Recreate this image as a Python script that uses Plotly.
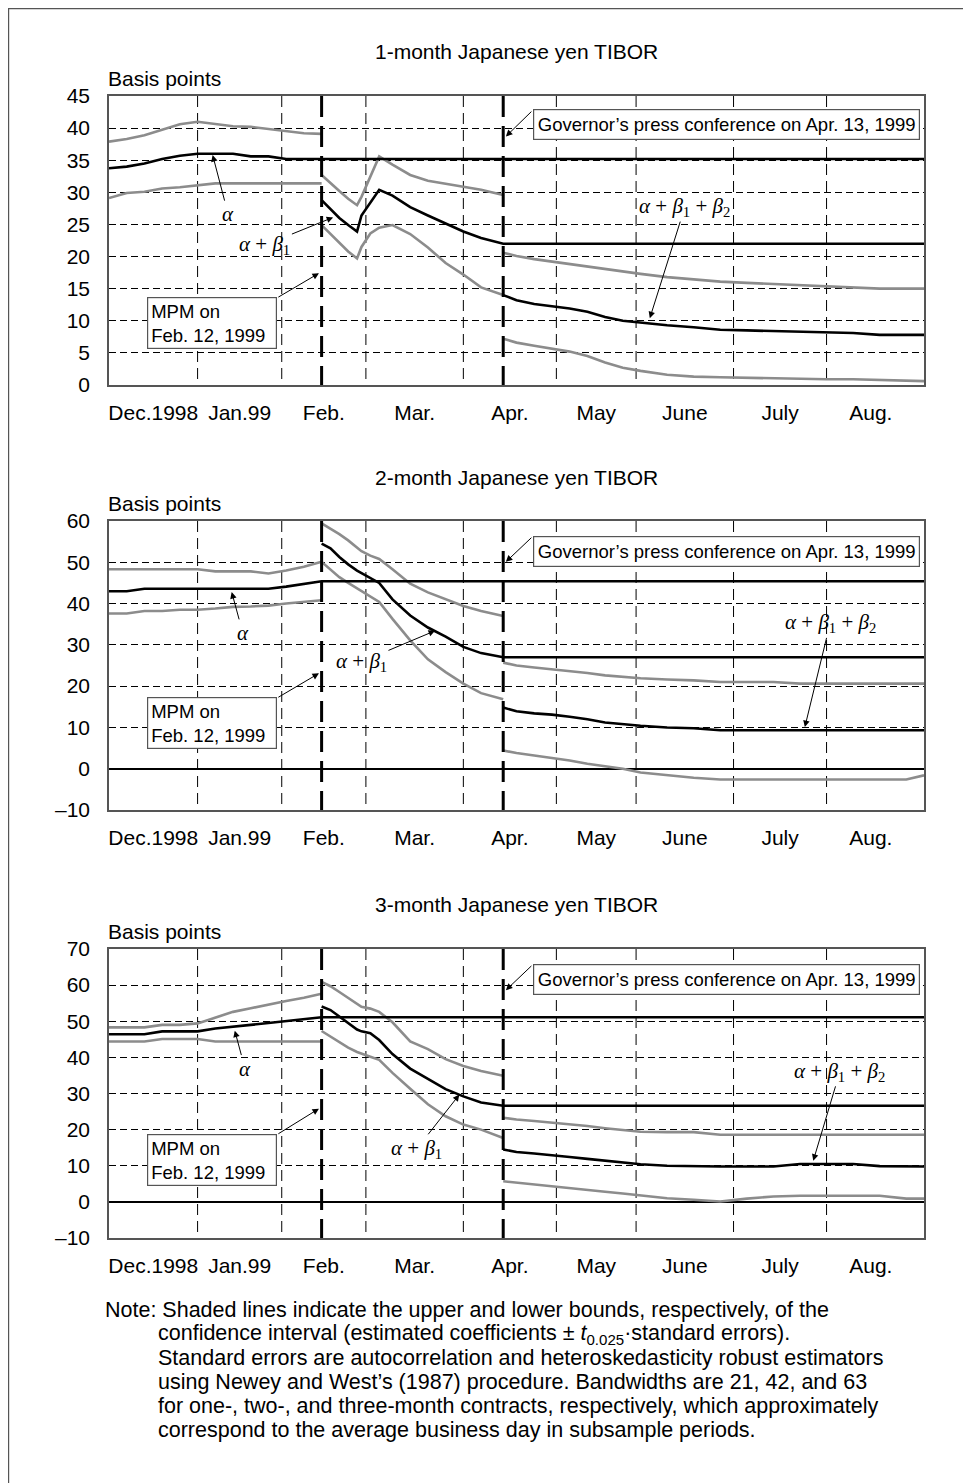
import plotly.graph_objects as go

# ---------------- data (x = business-day index from 1 Dec 1998) ----------------
DAYS_A = [0, 4, 8, 12, 16, 20, 24, 28, 32, 36, 40, 44, 48]
DAYS_B = [48, 50, 52, 54, 56, 57, 59, 61, 64, 68, 72, 76, 80, 84, 89]
DAYS_C = [89, 92, 96, 100, 104, 108, 112, 116, 120, 126, 132, 138, 144, 150, 156, 162, 168, 174, 180, 184]
LAST_DAY = 184
EVENT_DAYS = [48, 89]
MONTH_BOUNDS = [20, 39, 58, 80, 101, 119, 141, 162]
MONTH_LABEL_POS = [10, 29.5, 48.5, 69, 90.5, 110, 130, 151.5, 172]
MONTH_LABELS = ["Dec.1998", "Jan.99", "Feb.", "Mar.", "Apr.", "May", "June", "July", "Aug."]

TITLES = ["1-month Japanese yen TIBOR", "2-month Japanese yen TIBOR", "3-month Japanese yen TIBOR"]
Y_RANGES = [[0, 45], [-10, 60], [-10, 70]]
Y_TICKS = [[0, 5, 10, 15, 20, 25, 30, 35, 40, 45],
           [-10, 0, 10, 20, 30, 40, 50, 60],
           [-10, 0, 10, 20, 30, 40, 50, 60, 70]]
Y_TICKTEXT = [["0", "5", "10", "15", "20", "25", "30", "35", "40", "45"],
              ["\u201310", "0", "10", "20", "30", "40", "50", "60"],
              ["\u201310", "0", "10", "20", "30", "40", "50", "60", "70"]]

# 1-month
M1_A_EST = [33.75, 34.0, 34.5, 35.2, 35.7, 36.0, 36.0, 36.0, 35.6, 35.6, 35.2, 35.2, 35.2]
M1_A_UP = [37.9, 38.3, 38.9, 39.7, 40.6, 41.0, 40.65, 40.3, 40.2, 39.9, 39.5, 39.2, 39.1]
M1_A_LO = [29.1, 29.9, 30.1, 30.6, 30.8, 31.15, 31.4, 31.4, 31.4, 31.4, 31.4, 31.4, 31.4]
M1_B_EST = [28.8, 27.4, 26.0, 24.9, 23.9, 26.4, 28.4, 30.4, 29.5, 27.7, 26.4, 25.2, 23.9, 22.9, 22.0]
M1_B_UP = [32.7, 31.4, 30.2, 29.0, 28.0, 29.3, 32.5, 35.6, 34.3, 32.7, 31.8, 31.3, 30.9, 30.4, 29.6]
M1_B_LO = [24.9, 23.5, 22.1, 20.8, 19.7, 21.5, 23.6, 24.5, 24.9, 23.5, 21.4, 19.0, 17.2, 15.2, 14.0]
M1_C_EST = [14.0, 13.2, 12.6, 12.3, 11.9, 11.4, 10.6, 10.0, 9.7, 9.3, 9.0, 8.6, 8.5, 8.4, 8.2, 8.2, 8.1, 7.8, 7.8, 7.8]
M1_C_UP = [20.6, 20.1, 19.6, 19.2, 18.9, 18.4, 18.0, 17.6, 17.3, 16.8, 16.4, 16.1, 15.9, 15.7, 15.5, 15.3, 15.2, 15.0, 15.0, 15.0]
M1_C_LO = [7.2, 6.6, 6.1, 5.7, 5.2, 4.5, 3.5, 2.7, 2.2, 1.6, 1.3, 1.2, 1.1, 1.0, 1.0, 0.9, 0.9, 0.8, 0.6, 0.6]

# 2-month
M2_A_EST = [43.0, 43.0, 43.6, 43.6, 43.6, 43.6, 43.6, 43.6, 43.6, 43.6, 44.1, 44.7, 45.4]
M2_A_UP = [48.3, 48.3, 48.3, 48.3, 48.3, 48.3, 47.8, 47.8, 47.8, 47.3, 48.0, 48.9, 50.1]
M2_A_LO = [37.6, 37.6, 38.2, 38.2, 38.5, 38.5, 38.8, 39.2, 39.3, 39.5, 40.0, 40.4, 40.8]
M2_B_EST = [54.5, 53.4, 51.3, 49.5, 48.0, 47.4, 46.4, 45.0, 41.0, 37.1, 34.2, 32.0, 29.5, 28.0, 27.0]
M2_B_UP = [59.4, 58.2, 56.8, 55.3, 53.5, 52.7, 51.6, 50.8, 48.3, 44.8, 42.7, 41.0, 39.4, 38.2, 37.0]
M2_B_LO = [50.1, 48.3, 46.4, 45.0, 43.7, 43.0, 41.8, 40.4, 36.3, 31.1, 26.5, 23.4, 20.6, 18.3, 16.8]
M2_C_EST = [14.8, 13.9, 13.4, 13.1, 12.6, 12.0, 11.2, 10.8, 10.4, 10.0, 9.8, 9.3, 9.3, 9.3, 9.3, 9.3, 9.3, 9.3, 9.3, 9.3]
M2_C_UP = [25.7, 25.0, 24.5, 24.1, 23.7, 23.2, 22.6, 22.2, 21.9, 21.6, 21.4, 21.0, 21.0, 21.0, 20.6, 20.6, 20.6, 20.6, 20.6, 20.6]
M2_C_LO = [4.4, 3.8, 3.2, 2.6, 2.0, 1.2, 0.6, 0.0, -0.9, -1.6, -2.2, -2.6, -2.6, -2.6, -2.6, -2.6, -2.6, -2.6, -2.6, -1.6]

# 3-month
M3_A_EST = [46.4, 46.4, 46.4, 47.2, 47.2, 47.2, 48.0, 48.6, 49.0, 49.5, 50.0, 50.4, 51.1]
M3_A_UP = [48.3, 48.3, 48.3, 49.0, 49.0, 49.4, 51.0, 52.6, 53.6, 54.7, 55.6, 56.5, 57.6]
M3_A_LO = [44.4, 44.4, 44.4, 45.1, 45.1, 45.1, 44.4, 44.4, 44.4, 44.4, 44.4, 44.4, 44.4]
M3_B_EST = [54.1, 53.1, 51.3, 49.5, 47.7, 47.2, 46.7, 44.8, 40.9, 36.9, 34.0, 31.2, 29.2, 27.5, 26.6]
M3_B_UP = [60.9, 59.7, 58.1, 56.4, 54.6, 54.0, 53.5, 52.6, 49.7, 44.4, 42.3, 39.5, 37.6, 36.2, 34.9]
M3_B_LO = [47.3, 45.7, 44.2, 42.7, 41.5, 41.0, 40.2, 39.3, 35.7, 31.3, 27.0, 23.7, 21.4, 20.0, 17.7]
M3_C_EST = [14.5, 13.8, 13.4, 13.0, 12.4, 11.9, 11.4, 10.9, 10.4, 10.0, 9.8, 9.8, 9.8, 9.8, 10.5, 10.5, 10.5, 9.9, 9.8, 9.8]
M3_C_UP = [23.3, 22.8, 22.4, 22.0, 21.5, 21.0, 20.4, 19.9, 19.4, 19.3, 19.3, 18.6, 18.6, 18.6, 18.6, 18.6, 18.6, 18.6, 18.6, 18.6]
M3_C_LO = [5.7, 5.3, 4.8, 4.3, 3.8, 3.3, 2.8, 2.3, 1.8, 1.0, 0.6, 0.1, 0.9, 1.5, 1.7, 1.7, 1.7, 1.7, 0.9, 0.9]

NOTE_LINES = [
    "Note: Shaded lines indicate the upper and lower bounds, respectively, of the",
    "confidence interval (estimated coefficients \u00b1 <i>t</i><sub>0.025</sub>\u00b7standard errors).",
    "Standard errors are autocorrelation and heteroskedasticity robust estimators",
    "using Newey and West\u2019s (1987) procedure. Bandwidths are 21, 42, and 63",
    "for one-, two-, and three-month contracts, respectively, which approximately",
    "correspond to the average business day in subsample periods.",
]

PANELS = [
    (M1_A_EST, M1_A_UP, M1_A_LO, M1_B_EST, M1_B_UP, M1_B_LO, M1_C_EST, M1_C_UP, M1_C_LO),
    (M2_A_EST, M2_A_UP, M2_A_LO, M2_B_EST, M2_B_UP, M2_B_LO, M2_C_EST, M2_C_UP, M2_C_LO),
    (M3_A_EST, M3_A_UP, M3_A_LO, M3_B_EST, M3_B_UP, M3_B_LO, M3_C_EST, M3_C_UP, M3_C_LO),
]

# annotation placement (data coords of each panel): text centre, arrow head
LBL_ALPHA = [((26.9, 26.6), (23.4, 35.8)),
             ((30.2, 32.9), (27.7, 42.8)),
             ((30.7, 36.9), (28.4, 47.4))]
LBL_AB1 = [((35.2, 21.8), (50.6, 26.1)),
           ((57.0, 25.9), (73.6, 33.4)),
           ((69.5, 14.7), (79.1, 29.7))]
LBL_AB2 = [((130.0, 27.7), (122.1, 10.4)),
           ((162.8, 35.2), (157.1, 10.1)),
           ((165.0, 36.0), (159.0, 11.4))]
# box centre, arrow tail (box corner), arrow head
BOX_MPM = [((23.3, 9.66), (37.9, 13.55), (47.4, 17.4)),
           ((23.3, 11.1), (37.9, 17.1), (47.4, 23.1)),
           ((23.3, 11.7), (37.9, 18.6), (47.4, 25.8))]
BOX_GOV = [((139.4, 40.6), (95.7, 42.8), (89.6, 38.7)),
           ((139.4, 52.7), (95.7, 56.3), (89.6, 50.1)),
           ((139.4, 61.6), (95.7, 65.7), (89.6, 58.6))]

# ---------------- layout geometry (screen pixels; page body has 8px margin) ----------------
OFF = 8
W, H = 963, 1475
PLOT_L, PLOT_R = 109, 924          # screen x of plot edges
PANEL_TOP = [96, 521, 949]         # screen y
PANEL_BOT = [385, 810, 1238]
L = PLOT_L - OFF
R = W - (PLOT_R - OFF)

def px_x(X):
    return (X - OFF - L) / (W - L - R)

def px_y(Y):
    return 1 - (Y - OFF) / H

SANS = "Liberation Sans, Arial, Helvetica, sans-serif"
SERIF = "Liberation Serif, Times New Roman, serif"
BLACK = "#000000"
GRAY = "#8c8c8c"

fig = go.Figure()
layout = dict(
    width=W, height=H,
    margin=dict(l=L, r=R, t=0, b=0, autoexpand=False),
    paper_bgcolor="white", plot_bgcolor="white",
    showlegend=False,
    font=dict(family=SANS, size=20, color="black"),
)
shapes = []
annotations = []

for i, data in enumerate(PANELS):
    n = i + 1
    xid = "x" if n == 1 else f"x{n}"
    yid = "y" if n == 1 else f"y{n}"
    a_est, a_up, a_lo, b_est, b_up, b_lo, c_est, c_up, c_lo = data

    def add(x, y, color):
        fig.add_trace(go.Scatter(x=x, y=y, mode="lines", xaxis=xid, yaxis=yid,
                                 line=dict(color=color, width=2.6), hoverinfo="skip"))

    add(DAYS_A, a_up, GRAY)
    add(DAYS_A, a_lo, GRAY)
    add(DAYS_B, b_up, GRAY)
    add(DAYS_B, b_lo, GRAY)
    add(DAYS_C, c_up, GRAY)
    add(DAYS_C, c_lo, GRAY)
    add(DAYS_A + [LAST_DAY], a_est + [a_est[-1]], BLACK)
    add(DAYS_B + [LAST_DAY], b_est + [b_est[-1]], BLACK)
    add(DAYS_C, c_est, BLACK)

    dom = [px_y(PANEL_BOT[i]), px_y(PANEL_TOP[i])]
    layout["xaxis" if n == 1 else f"xaxis{n}"] = dict(
        domain=[0, 1], anchor=yid, range=[0, LAST_DAY],
        tickvals=MONTH_LABEL_POS, ticktext=MONTH_LABELS,
        ticks="outside", ticklen=8, tickcolor="rgba(0,0,0,0)",
        tickfont=dict(family=SANS, size=21, color="black"),
        showgrid=False, zeroline=False,
        showline=True, mirror=True, linecolor="#555555", linewidth=1.5,
    )
    layout["yaxis" if n == 1 else f"yaxis{n}"] = dict(
        domain=dom, anchor=xid, range=Y_RANGES[i],
        tickvals=Y_TICKS[i], ticktext=Y_TICKTEXT[i],
        ticks="outside", ticklen=13, tickcolor="rgba(0,0,0,0)",
        tickfont=dict(family=SANS, size=21, color="black"),
        showgrid=True, gridcolor="black", gridwidth=1, griddash="7px,4px",
        zeroline=True, zerolinecolor="black", zerolinewidth=1.5,
        showline=True, mirror=True, linecolor="#555555", linewidth=1.5,
    )

    # month-boundary grid lines
    for b in MONTH_BOUNDS:
        shapes.append(dict(type="line", xref=xid, yref=f"{yid} domain",
                           x0=b, x1=b, y0=1, y1=0, layer="below",
                           line=dict(color="black", width=1, dash="11px,6px")))
    # event lines
    for d in EVENT_DAYS:
        shapes.append(dict(type="line", xref=xid, yref=f"{yid} domain",
                           x0=d, x1=d, y0=1, y1=0, layer="above",
                           line=dict(color="black", width=3, dash="21px,9px")))

    # titles
    annotations.append(dict(text=TITLES[i], xref="paper", yref="paper",
                            x=px_x(516.5), y=px_y(PANEL_TOP[i] - 44), xanchor="center", yanchor="middle",
                            showarrow=False, font=dict(family=SANS, size=21, color="black")))
    annotations.append(dict(text="Basis points", xref="paper", yref="paper",
                            x=px_x(106), y=px_y(PANEL_TOP[i] - 18), xanchor="left", yanchor="middle",
                            showarrow=False, font=dict(family=SANS, size=21, color="black")))

    def labelled(txt, pos, head):
        annotations.append(dict(text=txt, xref=xid, yref=yid, axref=xid, ayref=yid,
                                x=head[0], y=head[1], ax=pos[0], ay=pos[1],
                                showarrow=True, arrowhead=2, arrowsize=1.3, arrowwidth=1,
                                arrowcolor="black", standoff=0,
                                font=dict(family=SERIF, size=21, color="black")))

    def arrow(tail, head):
        annotations.append(dict(text="", xref=xid, yref=yid, axref=xid, ayref=yid,
                                x=head[0], y=head[1], ax=tail[0], ay=tail[1],
                                showarrow=True, arrowhead=2, arrowsize=1.3, arrowwidth=1,
                                arrowcolor="black", standoff=0, startstandoff=0))

    t, h = LBL_ALPHA[i]
    labelled("<i>\u03b1</i>", t, h)
    t, h = LBL_AB1[i]
    labelled("<i>\u03b1</i> + <i>\u03b2</i><sub>1</sub>", t, h)
    t, h = LBL_AB2[i]
    labelled("<i>\u03b1</i> + <i>\u03b2</i><sub>1</sub> + <i>\u03b2</i><sub>2</sub>", t, h)

    t, a, h = BOX_MPM[i]
    annotations.append(dict(text="MPM on<br>Feb. 12, 1999", xref=xid, yref=yid, x=t[0], y=t[1],
                            xanchor="center", yanchor="middle", align="left", showarrow=False,
                            width=122, height=44, borderpad=3, bordercolor="#555555", borderwidth=1.2,
                            bgcolor="white", font=dict(family=SANS, size=18.5, color="black")))
    arrow(a, h)
    t, a, h = BOX_GOV[i]
    annotations.append(dict(text="Governor\u2019s press conference on Apr. 13, 1999", xref=xid, yref=yid,
                            x=t[0], y=t[1], xanchor="center", yanchor="middle", showarrow=False,
                            width=379, height=23, borderpad=3, bordercolor="#555555", borderwidth=1.2,
                            bgcolor="white", font=dict(family=SANS, size=18.5, color="black")))
    arrow(a, h)

# note
for k, line in enumerate(NOTE_LINES):
    annotations.append(dict(text=line, xref="paper", yref="paper",
                            x=px_x(103 if k == 0 else 156), y=px_y(1310 + 24 * k),
                            xanchor="left", yanchor="middle", showarrow=False,
                            font=dict(family=SANS, size=21.5, color="black")))

# outer frame (left/top edges visible)
shapes.append(dict(type="rect", xref="paper", yref="paper",
                   x0=px_x(8.6), x1=px_x(1000), y0=px_y(1500), y1=px_y(8.6),
                   line=dict(color="#555555", width=1.2), layer="below"))

layout["shapes"] = shapes
layout["annotations"] = annotations
fig.update_layout(**layout)
fig.write_html("out.html")
